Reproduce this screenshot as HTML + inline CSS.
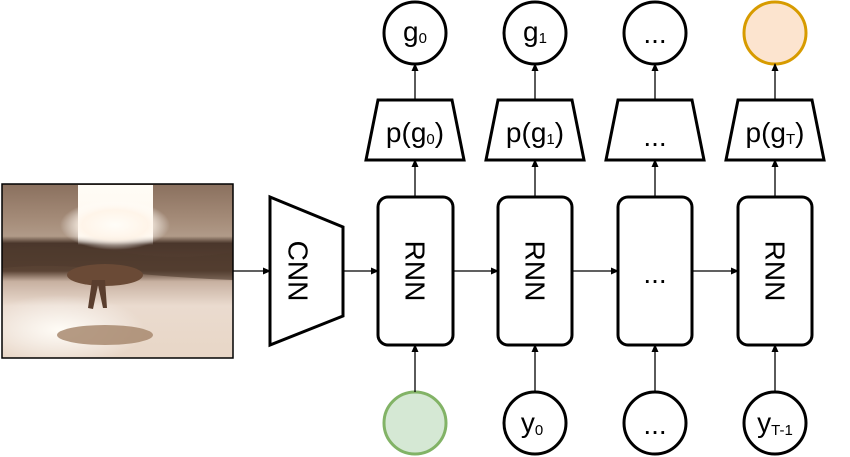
<!DOCTYPE html>
<html><head><style>body{margin:0;background:#fff}svg{display:block}</style></head>
<body>
<svg width="850" height="457" viewBox="0 0 850 457" xmlns="http://www.w3.org/2000/svg" font-family="Liberation Sans, Arial, sans-serif">
<defs>
<marker id="a" markerWidth="8" markerHeight="8" refX="7" refY="4" orient="auto" markerUnits="userSpaceOnUse"><path d="M0,0.5 L8,4 L0,7.5z" fill="#000"/></marker>
<linearGradient id="sky" x1="0" y1="0" x2="0" y2="1">
<stop offset="0" stop-color="#8a705e"/><stop offset="0.2" stop-color="#a48b78"/><stop offset="0.3" stop-color="#b09a88"/>
<stop offset="0.34" stop-color="#4a362b"/><stop offset="0.5" stop-color="#5a4334"/>
<stop offset="0.56" stop-color="#c7b0a0"/><stop offset="0.7" stop-color="#eadbcf"/><stop offset="1" stop-color="#e8d6c6"/></linearGradient>
<radialGradient id="sun" cx="0.5" cy="0.5" r="0.5"><stop offset="0" stop-color="#fffdf8"/><stop offset="0.6" stop-color="#fff4e8" stop-opacity="0.9"/><stop offset="1" stop-color="#fff" stop-opacity="0"/></radialGradient>
<radialGradient id="sand" cx="0.5" cy="0.5" r="0.5"><stop offset="0" stop-color="#fffcf6"/><stop offset="1" stop-color="#fff" stop-opacity="0"/></radialGradient>
<linearGradient id="col" x1="0" y1="0" x2="0" y2="1"><stop offset="0" stop-color="#fffcf6"/><stop offset="0.85" stop-color="#fff8ee"/><stop offset="1" stop-color="#fff" stop-opacity="0"/></linearGradient>
</defs>
<rect x="2" y="184" width="231" height="174" fill="url(#sky)"/>
<rect x="78" y="185" width="75" height="60" fill="url(#col)"/>
<ellipse cx="115" cy="225" rx="55" ry="25" fill="url(#sun)"/>
<ellipse cx="60" cy="330" rx="85" ry="35" fill="url(#sand)"/>
<path d="M2 248 Q60 244 120 252 Q180 262 233 252 L233 280 Q180 278 120 272 Q60 262 2 268z" fill="#4f3a2d" opacity="0.6"/>
<ellipse cx="105" cy="275" rx="38" ry="11" fill="#6a4a36"/>
<path d="M92 280 L88 308 L93 309 L98 285 L103 308 L107 308 L105 280z" fill="#5a3e2e"/>
<ellipse cx="105" cy="335" rx="48" ry="10" fill="#a88a70" opacity="0.85"/>
<rect x="2" y="184" width="231" height="174" fill="none" stroke="#000" stroke-width="1.5"/>

<g stroke="#000" stroke-width="3" fill="#fff">
<path d="M270 197 L343 227 L343 316 L270 345z"/>
<rect x="378" y="197" width="75" height="148" rx="10"/>
<rect x="498" y="197" width="74" height="148" rx="10"/>
<rect x="618" y="197" width="74" height="148" rx="10"/>
<rect x="738" y="197" width="74" height="148" rx="10"/>
<path d="M378 100 L452 100 L464 160 L366 160z"/>
<path d="M498 100 L572 100 L584 160 L486 160z"/>
<path d="M618 100 L692 100 L704 160 L606 160z"/>
<path d="M738 100 L812 100 L824 160 L726 160z"/>
<circle cx="415" cy="33" r="31"/><circle cx="535" cy="33" r="31"/><circle cx="655" cy="33" r="31"/>
<circle cx="775" cy="33" r="31" fill="#fce4cf" stroke="#d79b00"/>
<circle cx="415" cy="423" r="31" fill="#d5e8d4" stroke="#82b366"/>
<circle cx="535" cy="423" r="31"/><circle cx="655" cy="423" r="31"/><circle cx="775" cy="423" r="31"/>
</g>
<g stroke="#000" stroke-width="1.3" fill="none" marker-end="url(#a)">
<path d="M233 271 L270 271"/><path d="M343 271 L378 271"/><path d="M453 271 L498 271"/><path d="M572 271 L618 271"/><path d="M692 271 L738 271"/>
<path d="M415 197 L415 160"/><path d="M535 197 L535 160"/><path d="M655 197 L655 160"/><path d="M775 197 L775 160"/>
<path d="M415 100 L415 64"/><path d="M535 100 L535 64"/><path d="M655 100 L655 64"/><path d="M775 100 L775 64"/>
<path d="M415 392 L415 345"/><path d="M535 392 L535 345"/><path d="M655 392 L655 345"/><path d="M775 392 L775 345"/>
</g>
<g font-size="28" fill="#000" text-anchor="middle">
<text transform="translate(298,271) rotate(90)" dominant-baseline="central">CNN</text>
<text transform="translate(415,271) rotate(90)" dominant-baseline="central">RNN</text>
<text transform="translate(535,271) rotate(90)" dominant-baseline="central">RNN</text>
<text transform="translate(775,271) rotate(90)" dominant-baseline="central">RNN</text>
<text x="655" y="283">...</text>
<text x="415" y="142">p(g<tspan font-size="15" dy="2">0</tspan><tspan dy="-2">)</tspan></text>
<text x="535" y="142">p(g<tspan font-size="15" dy="2">1</tspan><tspan dy="-2">)</tspan></text>
<text x="655" y="146">...</text>
<text x="775" y="142">p(g<tspan font-size="15" dy="2">T</tspan><tspan dy="-2">)</tspan></text>
<text x="415" y="41">g<tspan font-size="15" dy="2">0</tspan></text>
<text x="535" y="41">g<tspan font-size="15" dy="2">1</tspan></text>
<text x="655" y="43">...</text>
<text x="532" y="432">y<tspan font-size="15" dy="3">0</tspan></text>
<text x="655" y="434">...</text>
<text x="775" y="432">y<tspan font-size="15" dy="3">T-1</tspan></text>
</g>
</svg>
</body></html>
